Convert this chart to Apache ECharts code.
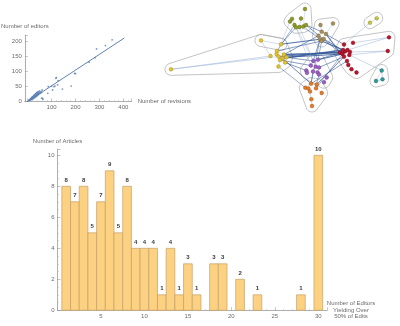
<!DOCTYPE html>
<html>
<head>
<meta charset="utf-8">
<script src="https://cdn.jsdelivr.net/npm/echarts@6/dist/echarts.min.js"></script>
<style>
  html, body { margin: 0; padding: 0; background: #fff; }
  #chart { width: 400px; height: 326px; }
</style>
</head>
<body>
<div id="chart"></div>
<script>
// ---- Revisions vs editors (one point per article) ----
const revisions = [4, 6, 8, 9, 10, 12, 12, 14, 15, 16, 17, 18, 19, 20, 21, 22, 23, 24, 25, 26,
  27, 28, 29, 30, 31, 32, 33, 34, 35, 36, 37, 38, 39, 40, 41, 42, 43, 44, 45, 46,
  48, 50, 52, 55, 58, 60, 62, 64, 56, 58,
  84, 86, 100, 104, 110, 114, 118, 120, 125, 127, 145, 182, 196, 200, 257, 282, 288, 325, 353];
const editors = [3, 5, 4, 7, 6, 8, 5, 10, 7, 12, 9, 14, 11, 8, 15, 12, 17, 10, 19, 14,
  21, 16, 12, 22, 18, 25, 15, 20, 27, 23, 17, 29, 24, 20, 31, 26, 22, 33, 28, 24,
  30, 35, 27, 32, 30, 38, 10, 8, 30, 11,
  27, 49, 51, 38, 49, 51, 77, 79, 55, 69, 41, 51, 93, 92, 130, 145, 174, 185, 204];
const fitRange = [-12, 404];

// ---- Histogram: editors yielding over 50% of edits ----
const editorCounts = [1, 2, 3, 4, 5, 6, 7, 8, 9, 10, 11, 12, 13, 14, 15, 16, 17, 18, 19, 20,
  21, 22, 23, 24, 25, 26, 27, 28, 29, 30];
const articleCounts = [8, 7, 8, 5, 7, 9, 5, 8, 4, 4, 4, 1, 4, 1, 3, 1, 0, 3, 3, 0,
  2, 0, 1, 0, 0, 0, 0, 1, 0, 10];

// ---- Co-editing network: node layout per community ----
const nodesYellow = [[11, 69.3], [101, 40.5], [121, 44.3], [117, 51], [116.5, 54], [118.5, 56.5],
  [110.5, 56], [122.5, 58.3], [126.5, 57.3], [124, 54.5], [120, 60], [125, 62.5], [118.5, 66.5]];
const nodesOlive = [[145, 9], [132, 18.8], [130, 21.5], [141, 18.5], [134.5, 25], [136, 27.3],
  [139.5, 27], [143.3, 26.5], [146, 25]];
const nodesTan = [[160.5, 25], [173, 23.5], [161.7, 31.7], [158.5, 35.7], [166, 34], [160, 39.3],
  [163.7, 39], [161.7, 41]];
const nodesRed = [[184, 44.5], [193, 42.8], [229, 37.3], [227.8, 51], [180, 52.7], [182.5, 54],
  [185, 51.5], [187.5, 50], [184, 56.7], [189.3, 55], [187, 61], [188.3, 65], [191.5, 69.2],
  [196.5, 72.5], [183, 50], [190, 52]];
const nodesTeal = [[221.7, 70.5], [222.5, 79.3], [216, 81]];
const nodesLime = [[210, 22.7], [216.7, 18.3]];
const nodesPurple = [[153.3, 61], [158, 59.7], [150.8, 65.5], [155.7, 66.7], [159, 67.5],
  [146.3, 70.5], [147, 72.8], [153, 71.5], [157.5, 72.3], [159, 74.5], [166.7, 77.5], [164, 82.2]];
const nodesOrange = [[151, 83.7], [145.3, 87.7], [148.3, 88.5], [150, 91.5], [156.7, 84.5],
  [156, 88.3], [161.7, 93], [151.3, 99.2], [152, 106]];
const yellowSubgroup = [[101, 40.5], [121, 44.3]];

// links: [from, to, weight]
const links = [
  ['Y9', 'R4', 2], ['Y7', 'R14', 2], ['Y5', 'R6', 1.5], ['Y8', 'R5', 1.5], ['Y2', 'T5', 1.5],
  ['Y9', 'T3', 1], ['Y3', 'T7', 1], ['Y10', 'P2', 1], ['Y11', 'P5', 1], ['Y7', 'E0', 1.2],
  ['Y8', 'P0', 1], ['Y3', 'O4', 0.8], ['Y2', 'O5', 0.8], ['Y4', 'O2', 0.6], ['Y12', 'E1', 0.8],
  ['O8', 'T2', 1], ['O7', 'T5', 0.8], ['O6', 'T3', 0.6], ['O5', 'P0', 0.6], ['O8', 'R4', 1],
  ['O6', 'P0', 0.6], ['O5', 'P2', 0.6],
  ['T4', 'R4', 1.5], ['T6', 'R6', 1.2], ['T7', 'R14', 1.5], ['T2', 'R0', 1], ['T5', 'P0', 1],
  ['T7', 'P1', 0.8], ['T5', 'E0', 0.8],
  ['P1', 'R5', 1.5], ['P4', 'R8', 1], ['P0', 'R4', 1],
  ['E4', 'R8', 1.2], ['E0', 'R10', 1], ['E5', 'R5', 0.8], ['E0', 'P7', 0.8], ['E4', 'P9', 0.8],
  ['R1', 'R2', 0.7], ['R7', 'R2', 0.7], ['R9', 'R3', 0.7], ['R15', 'R3', 0.7], ['R11', 'R12', 0.7],
  ['R12', 'R13', 0.7], ['R10', 'R11', 0.7],
  ['C0', 'R9', 0.7], ['C0', 'C1', 0.7], ['C1', 'C2', 0.7], ['C0', 'C2', 0.5],
  ['L0', 'R0', 0.7], ['L0', 'L1', 0.6],
  ['Y0', 'Y6', 0.7], ['Y0', 'Y5', 0.7], ['Y1', 'Y2', 0.6], ['Y1', 'Y6', 0.6],
  ['Y3', 'Y4', 0.5], ['Y4', 'Y5', 0.5], ['Y5', 'Y7', 0.5], ['Y7', 'Y8', 0.5], ['Y9', 'Y3', 0.5],
  ['Y10', 'Y12', 0.5], ['Y11', 'Y8', 0.5],
  ['O1', 'O2', 0.5], ['O1', 'O4', 0.5], ['O3', 'O6', 0.5], ['O0', 'O7', 0.5], ['O4', 'O5', 0.5],
  ['O6', 'O7', 0.5], ['O7', 'O8', 0.5],
  ['T0', 'T2', 0.5], ['T1', 'T4', 0.5], ['T3', 'T5', 0.5], ['T5', 'T6', 0.5], ['T6', 'T7', 0.5],
  ['P0', 'P2', 0.5], ['P1', 'P3', 0.5], ['P3', 'P7', 0.5], ['P5', 'P6', 0.5], ['P7', 'P8', 0.5],
  ['P8', 'P9', 0.5], ['P10', 'P11', 0.5], ['P9', 'P10', 0.5],
  ['E0', 'E1', 0.5], ['E1', 'E2', 0.5], ['E2', 'E3', 0.5], ['E3', 'E7', 0.5], ['E7', 'E8', 0.5],
  ['E4', 'E5', 0.5], ['E5', 'E6', 0.5], ['E0', 'E4', 0.5],
  ['R0', 'R6', 0.5], ['R4', 'R5', 0.5], ['R6', 'R7', 0.5], ['R8', 'R9', 0.5], ['R14', 'R15', 0.5]
];

const communities = [
  { key: 'Y', nodes: nodesYellow, color: '#e3c22e', border: '#9c8410' },
  { key: 'O', nodes: nodesOlive, color: '#8e9a2c', border: '#5d6614' },
  { key: 'T', nodes: nodesTan, color: '#a6915e', border: '#6e5e34' },
  { key: 'R', nodes: nodesRed, color: '#b8142a', border: '#7a0a18' },
  { key: 'C', nodes: nodesTeal, color: '#2f9b98', border: '#17625f' },
  { key: 'L', nodes: nodesLime, color: '#c4c448', border: '#85851e' },
  { key: 'P', nodes: nodesPurple, color: '#9a5fc2', border: '#643884' },
  { key: 'E', nodes: nodesOrange, color: '#e37b2b', border: '#9c4c10' }
];
const hullGroups = communities.map(c => c.nodes).concat([yellowSubgroup]);

// ---- helpers ----
function linearFit(xs, ys) {
  const n = xs.length;
  let sx = 0, sy = 0, sxx = 0, sxy = 0;
  for (let i = 0; i < n; i++) { sx += xs[i]; sy += ys[i]; sxx += xs[i] * xs[i]; sxy += xs[i] * ys[i]; }
  const slope = (n * sxy - sx * sy) / (n * sxx - sx * sx);
  return { slope, intercept: (sy - slope * sx) / n };
}

function convexHull(pts) {
  const p = pts.slice().sort((a, b) => a[0] - b[0] || a[1] - b[1]);
  if (p.length < 3) return p;
  const cross = (o, a, b) => (a[0] - o[0]) * (b[1] - o[1]) - (a[1] - o[1]) * (b[0] - o[0]);
  const lower = [], upper = [];
  for (const q of p) {
    while (lower.length >= 2 && cross(lower[lower.length - 2], lower[lower.length - 1], q) <= 0) lower.pop();
    lower.push(q);
  }
  for (let i = p.length - 1; i >= 0; i--) {
    const q = p[i];
    while (upper.length >= 2 && cross(upper[upper.length - 2], upper[upper.length - 1], q) <= 0) upper.pop();
    upper.push(q);
  }
  upper.pop(); lower.pop();
  return lower.concat(upper);
}

const fit = linearFit(revisions, editors);
const fitLine = fitRange.map(x => [x, fit.slope * x + fit.intercept]);

const graphNodes = [];
communities.forEach((c, ci) => {
  c.nodes.forEach((pt, i) => {
    graphNodes.push({
      name: c.key + i, value: pt, category: ci,
      itemStyle: { color: c.color, borderColor: c.border, borderWidth: 0.4 }
    });
  });
});
const graphLinks = links.map(([s, t, w]) => ({
  source: s, target: t,
  lineStyle: {
    width: w * 0.7,
    color: w >= 0.8 ? '#34599a' : '#7f9cc8',
    opacity: w >= 0.8 ? 0.85 : 0.8
  }
}));

const axisGray = '#9a9a9a';
const labelGray = '#6b6b6b';
const FONT = 'Liberation Sans, Arial, sans-serif';

function mathAxis(extra) {
  return Object.assign({
    type: 'value',
    splitLine: { show: false },
    axisLine: { show: true, onZero: false, lineStyle: { color: axisGray, width: 0.8 } },
    axisTick: { show: true, inside: true, length: 3, lineStyle: { color: axisGray, width: 0.6 } },
    minorTick: { show: true, length: 1.5, lineStyle: { color: '#b5b5b5', width: 0.5 } },
    axisLabel: { color: labelGray, fontSize: 6, fontFamily: FONT, margin: 3 },
    nameTextStyle: { color: labelGray, fontSize: 6, fontFamily: FONT }
  }, extra);
}

const chart = echarts.init(document.getElementById('chart'), null, { renderer: 'canvas' });

chart.setOption({
  animation: false,
  backgroundColor: '#ffffff',
  grid: [
    { left: 22.7, top: 35, width: 109, height: 66.5 },
    { left: 160, top: 0, width: 240, height: 115 },
    { left: 57.5, top: 149.1, width: 269.5, height: 161.2 }
  ],
  xAxis: [
    mathAxis({
      gridIndex: 0, min: -12, max: 435, splitNumber: 5,
      name: 'Number of revisions', nameLocation: 'end', nameGap: 6,
      nameTextStyle: { color: labelGray, fontSize: 6, fontFamily: FONT, align: 'left', verticalAlign: 'middle' },
      axisLabel: { color: labelGray, fontSize: 6, fontFamily: FONT, margin: 3,
        formatter: v => (v > 0 && v % 100 === 0) ? String(v) : '' },
      minorTick: { show: true, splitNumber: 5, length: 1.5, lineStyle: { color: '#b5b5b5', width: 0.5 } }
    }),
    { gridIndex: 1, type: 'value', min: 0, max: 240, show: false },
    mathAxis({
      gridIndex: 2, min: 0, max: 31, interval: 5,
      name: 'Number of Editors\nYielding Over\n50% of Edits', nameLocation: 'end', nameGap: 24,
      nameTextStyle: { color: labelGray, fontSize: 6, fontFamily: FONT, align: 'center',
        verticalAlign: 'middle', lineHeight: 6.5, padding: [0, 0, 6, 0] },
      axisLabel: { color: labelGray, fontSize: 6, fontFamily: FONT, margin: 3,
        formatter: v => (v > 0 && v % 5 === 0) ? String(v) : '' },
      minorTick: { show: true, splitNumber: 5, length: 1.5, lineStyle: { color: '#b5b5b5', width: 0.5 } }
    })
  ],
  yAxis: [
    mathAxis({
      gridIndex: 0, min: 0, max: 220, interval: 50,
      name: 'Number of editors', nameLocation: 'end', nameGap: 6,
      nameTextStyle: { color: labelGray, fontSize: 6, fontFamily: FONT, align: 'center' },
      axisLabel: { color: labelGray, fontSize: 6, fontFamily: FONT, margin: 3,
        formatter: v => (v % 50 === 0) ? String(v) : '' },
      minorTick: { show: true, splitNumber: 5, length: 1.5, lineStyle: { color: '#b5b5b5', width: 0.5 } }
    }),
    { gridIndex: 1, type: 'value', min: 0, max: 115, inverse: true, show: false },
    mathAxis({
      gridIndex: 2, min: 0, max: 10.4, interval: 2,
      name: 'Number of Articles', nameLocation: 'end', nameGap: 5,
      nameTextStyle: { color: labelGray, fontSize: 6, fontFamily: FONT, align: 'center' },
      axisLabel: { color: labelGray, fontSize: 6, fontFamily: FONT, margin: 3,
        formatter: v => (v % 2 === 0) ? String(v) : '' },
      minorTick: { show: true, splitNumber: 4, length: 1.5, lineStyle: { color: '#b5b5b5', width: 0.5 } }
    })
  ],
  series: [
    {
      type: 'scatter', xAxisIndex: 0, yAxisIndex: 0,
      data: revisions.map((r, i) => [r, editors[i]]),
      symbolSize: 1.8,
      itemStyle: { color: '#5b7fb4' },
      z: 3
    },
    {
      type: 'line', xAxisIndex: 0, yAxisIndex: 0,
      data: fitLine, symbol: 'none',
      lineStyle: { color: '#4f74ab', width: 0.9 },
      z: 2
    },
    {
      // rounded outlines around each community
      type: 'custom', xAxisIndex: 1, yAxisIndex: 1,
      data: hullGroups.map((g, i) => [i]),
      silent: true, z: 1,
      renderItem: function (params, api) {
        const pts = hullGroups[params.dataIndex];
        const pad = 6;
        const ring = [];
        pts.forEach(pt => {
          const c = api.coord(pt);
          for (let k = 0; k < 24; k++) {
            const a = k / 24 * Math.PI * 2;
            ring.push([c[0] + pad * Math.cos(a), c[1] + pad * Math.sin(a)]);
          }
        });
        return {
          type: 'polygon',
          shape: { points: convexHull(ring) },
          style: { fill: 'rgba(0,0,0,0)', stroke: '#ababab', lineWidth: 0.7 }
        };
      }
    },
    {
      type: 'graph', coordinateSystem: 'cartesian2d', xAxisIndex: 1, yAxisIndex: 1,
      layout: 'none', z: 3,
      symbolSize: 3.8,
      data: graphNodes,
      links: graphLinks,
      categories: communities.map(c => ({ name: c.key, itemStyle: { color: c.color } })),
      label: { show: false },
      emphasis: { disabled: true }
    },
    {
      type: 'custom', xAxisIndex: 2, yAxisIndex: 2,
      data: editorCounts.map((x, i) => [x, articleCounts[i]]),
      z: 2,
      renderItem: function (params, api) {
        const x = api.value(0), y = api.value(1);
        if (!y) return { type: 'group', children: [] };
        const tl = api.coord([x - 0.5, y]);
        const br = api.coord([x + 0.5, 0]);
        return {
          type: 'group',
          children: [
            {
              type: 'rect',
              shape: { x: tl[0], y: tl[1], width: br[0] - tl[0], height: br[1] - tl[1] },
              style: { fill: '#fcd181', stroke: '#c3a06a', lineWidth: 0.7 }
            },
            {
              type: 'text',
              x: (tl[0] + br[0]) / 2, y: tl[1] - 3,
              style: { text: String(y), align: 'center', verticalAlign: 'bottom',
                fill: '#3a3a3a', font: 'bold 6px ' + FONT }
            }
          ]
        };
      }
    }
  ]
});
</script>
</body>
</html>
